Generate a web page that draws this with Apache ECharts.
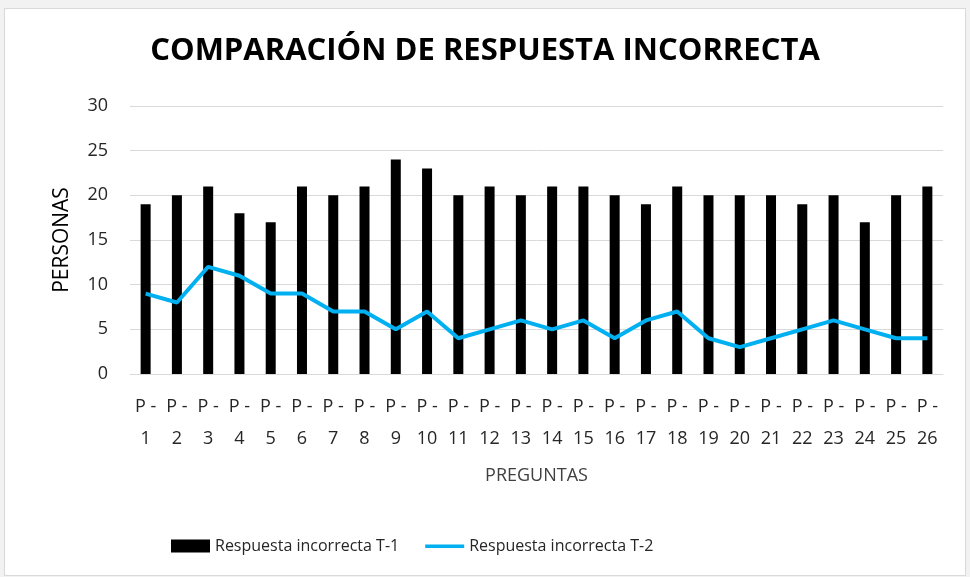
<!DOCTYPE html>
<html>
<head>
<meta charset="utf-8">
<title></title>
<script src="https://cdn.jsdelivr.net/npm/echarts@6/dist/echarts.min.js"></script>
<style>
*{
    padding:0;
    margin:0;
}
body{
    background-color:#f2f2f2;
    width:970px;
    height:577px;
}
/*图框*/
.box{
    position:absolute;
    top:8px;
    left:4px;
    width:960px;
    height:566px;
    background-color:#ffffff;
    border:1px solid #d9d9d9;
}
#chart{
    position:absolute;
    top:0;
    left:0;
    width:970px;
    height:577px;
}
</style>
</head>
<body>
<div class="box"></div>
<div id="chart"></div>
<script>
var preguntas = ['P - 1','P - 2','P - 3','P - 4','P - 5','P - 6','P - 7','P - 8','P - 9','P - 10',
    'P - 11','P - 12','P - 13','P - 14','P - 15','P - 16','P - 17','P - 18','P - 19','P - 20',
    'P - 21','P - 22','P - 23','P - 24','P - 25','P - 26'];
var incorrectaT1 = [19,20,21,18,17,21,20,21,24,23,20,21,20,21,21,20,19,21,20,20,20,19,20,17,20,21];
var incorrectaT2 = [9,8,12,11,9,9,7,7,5,7,4,5,6,5,6,4,6,7,4,3,4,5,6,5,4,4];
var yTicks = [0,5,10,15,20,25,30];

var fuente = "'Open Sans', sans-serif";
var myChart = echarts.init(document.getElementById('chart'));
var option = {
    backgroundColor: 'transparent',
    textStyle: { fontFamily: fuente },
    title: {
        text: 'COMPARACIÓN DE RESPUESTA INCORRECTA',
        left: 'center',
        top: 31,
        textStyle: { color: '#000', fontSize: 31, fontWeight: 'bold', fontFamily: fuente }
    },
    legend: {
        bottom: 18,
        left: 166,
        itemWidth: 39,
        itemHeight: 13,
        itemGap: 26,
        textStyle: { color: '#262626', fontSize: 16, fontFamily: fuente },
        data: [
            { name: 'Respuesta incorrecta T-1', icon: 'rect' },
            // línea azul sin marcador
            { name: 'Respuesta incorrecta T-2', icon: 'path://M0,0 M0,5 L40,5 L40,8.5 L0,8.5 Z M0,13' }
        ]
    },
    grid: { left: 130, right: 27, top: 106, bottom: 203 },
    xAxis: {
        type: 'category',
        data: preguntas,
        name: 'PREGUNTAS',
        nameLocation: 'middle',
        nameGap: 93,
        nameTextStyle: { color: '#404040', fontSize: 18, fontFamily: fuente },
        axisLine: { lineStyle: { color: '#d9d9d9' } },
        axisTick: { show: false },
        axisLabel: {
            color: '#262626', fontSize: 18, lineHeight: 32, margin: 17, interval: 0,
            formatter: function (v) { return v.replace(' - ', ' -\n'); }
        }
    },
    yAxis: {
        type: 'value',
        min: yTicks[0],
        max: yTicks[yTicks.length - 1],
        interval: yTicks[1] - yTicks[0],
        name: 'PERSONAS',
        nameLocation: 'middle',
        nameGap: 57,
        nameTextStyle: { color: '#000', fontSize: 21, fontFamily: fuente },
        axisLabel: { color: '#262626', fontSize: 18, margin: 22 },
        splitLine: { lineStyle: { color: '#d9d9d9', width: 1 } }
    },
    series: [
        {
            name: 'Respuesta incorrecta T-1',
            type: 'bar',
            data: incorrectaT1,
            barWidth: 10,
            itemStyle: { color: '#000000' }
        },
        {
            name: 'Respuesta incorrecta T-2',
            type: 'line',
            data: incorrectaT2,
            symbol: 'none',
            lineStyle: { color: '#00b0f0', width: 4 },
            itemStyle: { color: '#00b0f0' }
        }
    ]
};
myChart.setOption(option);
</script>
</body>
</html>
